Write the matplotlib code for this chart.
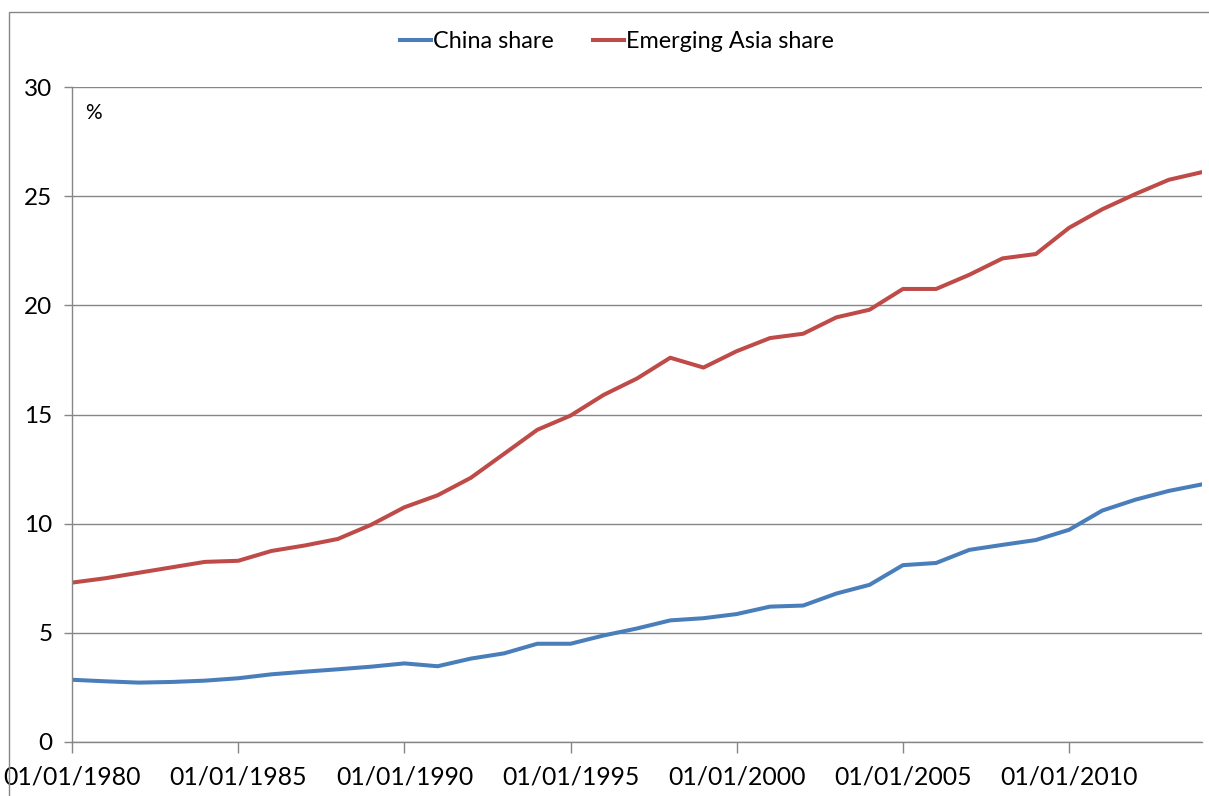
import matplotlib
matplotlib.use("Agg")
import matplotlib.pyplot as plt
import matplotlib.dates as mdates
from matplotlib.patches import Rectangle
import pandas as pd

# annual observations (1 January of each year), % share
years = list(range(1980, 2015))
china_share = [2.85, 2.78, 2.72, 2.75, 2.81, 2.92, 3.10, 3.22, 3.33, 3.45,
               3.60, 3.47, 3.82, 4.06, 4.50, 4.50, 4.88, 5.20, 5.57, 5.67,
               5.86, 6.20, 6.25, 6.80, 7.20, 8.10, 8.20, 8.80, 9.03, 9.25,
               9.72, 10.60, 11.10, 11.50, 11.80]
em_asia_share = [7.30, 7.50, 7.75, 8.00, 8.25, 8.30, 8.75, 9.00, 9.30, 9.95,
                 10.75, 11.30, 12.10, 13.20, 14.30, 14.95, 15.90, 16.65, 17.60, 17.15,
                 17.90, 18.50, 18.70, 19.45, 19.80, 20.75, 20.75, 21.40, 22.15, 22.35,
                 23.55, 24.40, 25.10, 25.75, 26.10]
tick_years = [1980, 1985, 1990, 1995, 2000, 2005, 2010]
y_ticks = [0, 5, 10, 15, 20, 25, 30]

dates = pd.to_datetime([f"{y}-01-01" for y in years])
tick_dates = pd.to_datetime([f"{y}-01-01" for y in tick_years])

plt.rcParams["font.family"] = ["Lato", "DejaVu Sans"]
grey = "#868686"

fig = plt.figure(figsize=(12.09, 7.96), dpi=100)
ax = fig.add_axes([72 / 1209, 54 / 796, 1130 / 1209, 655 / 796])

ax.plot(dates, china_share, color="#4A7EBB", lw=2.9, label="China share")
ax.plot(dates, em_asia_share, color="#BE4B48", lw=2.9, label="Emerging Asia share")

ax.set_xlim(dates[0], dates[-1])
ax.set_ylim(0, 30)
ax.set_yticks(y_ticks)
ax.set_xticks(tick_dates)
ax.xaxis.set_major_formatter(mdates.DateFormatter("%d/%m/%Y"))
ax.grid(axis="y", color=grey, lw=1.0)
ax.set_axisbelow(True)

for side in ["top", "right"]:
    ax.spines[side].set_visible(False)
for side in ["left", "bottom"]:
    ax.spines[side].set_color(grey)
    ax.spines[side].set_linewidth(1.0)
ax.tick_params(axis="y", length=6, width=1.0, color=grey, labelsize=17.5, pad=8)
ax.tick_params(axis="x", length=8, width=1.0, color=grey, labelsize=17.8, pad=9)

ax.text(0.012, 0.975, "%", transform=ax.transAxes, fontsize=15, va="top", ha="left")

fig.legend(loc="center", bbox_to_anchor=(617 / 1209, 1 - 42 / 796), ncol=2,
           frameon=False, fontsize=16.8, handlelength=1.3, handletextpad=0.1,
           columnspacing=1.7)

# outer chart frame
fig.patches.append(Rectangle((9 / 1209, -0.1), 1.2, 1.1 - 12 / 796,
                             transform=fig.transFigure, fill=False,
                             edgecolor=grey, lw=1.0))

fig.savefig("out.png", dpi=100)
